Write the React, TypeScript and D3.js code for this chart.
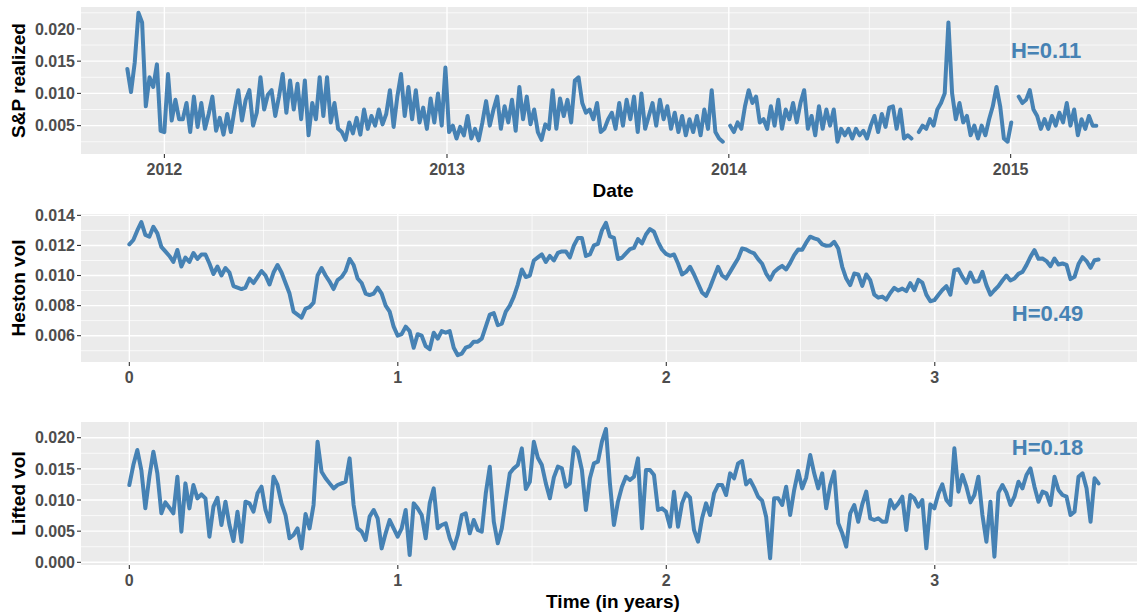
import * as d3 from "d3";

// S&P 500 realized volatility, daily (null = missing day)
const spStart = "2011-11-14";
const spEnd = "2015-04-22";
const spRealized: (number | null)[] = [
  0.0138, 0.0102, 0.0148, 0.0225, 0.021, 0.008, 0.0125, 0.011, 0.0145, 0.0042,
  0.004, 0.013, 0.0058, 0.009, 0.006, 0.006, 0.0085, 0.004, 0.0095, 0.0048,
  0.0085, 0.0045, 0.0068, 0.0095, 0.0042, 0.0062, 0.0036, 0.0068, 0.004, 0.0075,
  0.0105, 0.0058, 0.009, 0.0105, 0.005, 0.007, 0.0125, 0.0075, 0.0098, 0.0105,
  0.0065, 0.0095, 0.013, 0.007, 0.012, 0.0075, 0.0115, 0.006, 0.012, 0.0035,
  0.0085, 0.006, 0.0125, 0.0065, 0.0125, 0.0055, 0.0085, 0.0045, 0.004, 0.0028,
  0.0055, 0.0038, 0.0062, 0.0036, 0.0075, 0.0045, 0.0065, 0.005, 0.0075, 0.0052,
  0.0068, 0.0105, 0.0048, 0.0095, 0.013, 0.0065, 0.011, 0.006, 0.0105, 0.0055,
  0.0078, 0.0045, 0.0092, 0.0055, 0.01, 0.005, 0.014, 0.004, 0.005, 0.003,
  0.0048, 0.0035, 0.0065, 0.003, 0.0045, 0.0027, 0.0055, 0.0088, 0.005, 0.0075,
  0.0095, 0.0045, 0.008, 0.0055, 0.009, 0.0042, 0.011, 0.006, 0.0095, 0.0052,
  0.0075, 0.004, 0.0028, 0.0052, 0.0045, 0.0105, 0.0045, 0.0092, 0.0065, 0.009,
  0.0055, 0.012,
  0.0125, 0.0085, 0.007, 0.0075, 0.006, 0.0085, 0.004, 0.0045, 0.006, 0.007,
  0.0045, 0.0085, 0.005, 0.009, 0.006, 0.0095, 0.004, 0.01, 0.0045, 0.0065,
  0.0085, 0.005, 0.009, 0.006, 0.008, 0.0045, 0.007, 0.004, 0.0065, 0.0035,
  0.006, 0.004, 0.0065, 0.0035, 0.0075, 0.0045, 0.0105, 0.004, 0.003, 0.0025,
  null, 0.005, 0.004, 0.0055, 0.0045, 0.008, 0.0105, 0.0085, 0.0095, 0.0055,
  0.006, 0.0045, 0.008, 0.005, 0.009, 0.0045, 0.0075, 0.006, 0.0085, 0.0055,
  0.0085, 0.0105, 0.0045, 0.0065, 0.0035, 0.008, 0.0045, 0.0075, 0.005, 0.0075,
  0.0025, 0.0045, 0.0035, 0.0045, 0.003, 0.0045, 0.0035, 0.0042, 0.003, 0.005,
  0.0065, 0.004, 0.0068, 0.0048, 0.0078, 0.008, 0.0045, 0.0075, 0.003, 0.0035,
  0.003, null, 0.004, 0.005, 0.0045, 0.006, 0.005, 0.0075, 0.0085, 0.01,
  0.021, 0.01, 0.006, 0.0085, 0.0055, 0.0065, 0.0035, 0.005, 0.003, 0.005,
  0.0035, 0.006, 0.008, 0.011, 0.008, 0.003, 0.0025, 0.0055, null, 0.0095,
  0.0085, 0.009, 0.0105, 0.0075, 0.0065, 0.0045, 0.006, 0.0045, 0.0065, 0.005,
  0.007, 0.0055, 0.0085, 0.005, 0.0075, 0.0035, 0.006, 0.0045, 0.0065, 0.005,
  0.005,
];

// simulated paths, equally spaced over simYears
const simYears = 3.61;
const hestonVol = [
  0.01207, 0.01236, 0.013, 0.01355, 0.0127, 0.01258, 0.01324, 0.0128, 0.0119, 0.0116,
  0.0113, 0.0109, 0.0117, 0.0106, 0.0112, 0.0109, 0.0115, 0.0111, 0.0114, 0.0114,
  0.0108, 0.0101, 0.0106, 0.01, 0.0105, 0.0102, 0.0093, 0.0092, 0.0091, 0.0092,
  0.0098, 0.0095, 0.0099, 0.0103, 0.01, 0.0094, 0.0102, 0.0107, 0.0102, 0.0095,
  0.0088, 0.0076, 0.0074, 0.0072, 0.0078, 0.0079, 0.0082, 0.01, 0.0105, 0.01,
  0.0096, 0.0091, 0.0097, 0.0099, 0.0103, 0.0111, 0.0107, 0.0098, 0.0095, 0.0088,
  0.0087, 0.0088, 0.0092, 0.0088, 0.008, 0.0076, 0.0066, 0.006, 0.0061, 0.0066,
  0.0063, 0.0052, 0.0061, 0.006, 0.0053, 0.0051, 0.0062, 0.0058, 0.0063, 0.0062,
  0.0063, 0.0052, 0.0047, 0.0048, 0.0052, 0.0053, 0.0056, 0.0056, 0.0058, 0.0066,
  0.0074, 0.0075, 0.0067, 0.0068, 0.0076, 0.008, 0.0086, 0.0094, 0.0104, 0.0099,
  0.01, 0.011, 0.0112, 0.0114, 0.0109, 0.0113, 0.011, 0.0115, 0.0116, 0.0116,
  0.0112, 0.012, 0.0125, 0.0125, 0.0113, 0.0114, 0.012, 0.0121, 0.013, 0.0135,
  0.0126, 0.0125, 0.0111,
  0.01118, 0.01147, 0.01176, 0.01184, 0.01242, 0.01213, 0.01273, 0.01309, 0.01291, 0.01224,
  0.01173, 0.01144, 0.01131, 0.0114, 0.0108, 0.01007, 0.01024, 0.01058, 0.01007, 0.00947,
  0.00887, 0.00864, 0.00922, 0.00991, 0.01058, 0.01, 0.0098, 0.01024, 0.01069, 0.01113,
  0.0118, 0.01173, 0.01158, 0.01147, 0.01109, 0.01078, 0.01013, 0.00973, 0.01024, 0.01047,
  0.01064, 0.0104, 0.01084, 0.01136, 0.01173, 0.01171, 0.01218, 0.01258, 0.01247, 0.01238,
  0.01207, 0.01198, 0.012, 0.01224, 0.0118, 0.01058, 0.0098, 0.00936, 0.01013, 0.01007,
  0.00931, 0.01007, 0.00969, 0.00873, 0.00853, 0.0086, 0.0084, 0.00884, 0.00918, 0.009,
  0.00913, 0.00896, 0.00949, 0.00902, 0.00971, 0.00953, 0.00873, 0.00829, 0.00836, 0.00871,
  0.00904, 0.00929, 0.00873, 0.01036, 0.01042, 0.00991, 0.00951, 0.0102, 0.00958, 0.00962,
  0.01024, 0.00936, 0.00873, 0.00902, 0.00929, 0.00967, 0.01, 0.00967, 0.0098, 0.01011,
  0.01024, 0.01069, 0.01124, 0.01169, 0.01111, 0.01113, 0.01096, 0.01062, 0.01113, 0.01073,
  0.0108, 0.01071, 0.00976, 0.00991, 0.01076, 0.01122, 0.01096, 0.01051, 0.01102, 0.01107,
];

const liftedVol = [
  0.01241, 0.01561, 0.01802, 0.01481, 0.00866, 0.01374, 0.01775, 0.01428, 0.00786, 0.00962,
  0.00877, 0.00786, 0.01374, 0.00492, 0.01267, 0.00866, 0.01241, 0.01027, 0.01091, 0.01027,
  0.00412, 0.00893, 0.01037, 0.00599, 0.00973, 0.00599, 0.00342, 0.00813, 0.00331, 0.00973,
  0.00946, 0.00813, 0.01107, 0.01214, 0.0084, 0.00652, 0.01374, 0.01241, 0.00946, 0.00759,
  0.00385, 0.00438, 0.00545, 0.00224, 0.00775, 0.00545, 0.0092, 0.01936, 0.01455, 0.01348,
  0.01267, 0.01187, 0.01241, 0.01267, 0.01294, 0.01668, 0.0092, 0.00545, 0.00492, 0.00358,
  0.00733, 0.0084, 0.00706, 0.00224, 0.00465, 0.00679, 0.00545, 0.00412, 0.00545, 0.0084,
  0.00117, 0.00946, 0.00866, 0.00759, 0.00385, 0.00946, 0.01187, 0.00545,
  0.00599, 0.00626, 0.00385, 0.00224, 0.00438, 0.00759, 0.00786, 0.00465, 0.00679, 0.00519,
  0.00492, 0.01107, 0.01535, 0.00652, 0.00305, 0.00545, 0.01, 0.01428, 0.01508, 0.01561,
  0.01829, 0.01176, 0.01294, 0.01936, 0.01679, 0.01561, 0.01267, 0.01027, 0.01364, 0.01535,
  0.01508, 0.01214, 0.01267, 0.01845, 0.01775, 0.01481, 0.0084, 0.01348, 0.01588, 0.01615,
  0.01936, 0.0214, 0.01267, 0.00599, 0.00973, 0.01214, 0.01374, 0.01321, 0.01374, 0.01668,
  0.00545, 0.01481, 0.01481, 0.01401, 0.0084, 0.00866, 0.00813, 0.00572, 0.01134, 0.00572,
  0.00946, 0.01107, 0.01037, 0.00519, 0.00331, 0.00706, 0.00946, 0.00759, 0.01107, 0.01241,
  0.01241, 0.0108, 0.01428, 0.01348, 0.01588, 0.01626, 0.01251, 0.01321, 0.01198, 0.01053,
  0.00989, 0.00733, 0.00064, 0.01027, 0.01027, 0.0092, 0.01214, 0.00759,
  0.0116, 0.01465, 0.01187, 0.01358, 0.01722, 0.01428, 0.01187, 0.01428, 0.00866, 0.01241,
  0.01455, 0.00626, 0.00465, 0.00251, 0.00786, 0.0092, 0.00652, 0.0093, 0.01134, 0.00706,
  0.00679, 0.00706, 0.00652, 0.00652, 0.01, 0.00866, 0.00946, 0.01053, 0.00519, 0.0108,
  0.01027, 0.00893, 0.01, 0.00224, 0.0093, 0.00866, 0.01102, 0.01251, 0.01, 0.0092,
  0.01829, 0.01134, 0.01401, 0.01214, 0.00962, 0.0108, 0.01374, 0.00759, 0.00331, 0.00973,
  0.00091, 0.01118, 0.01241, 0.01118, 0.0092, 0.01053, 0.01294, 0.01187, 0.01401, 0.01508,
  0.01214, 0.00973, 0.01134, 0.01107, 0.0092, 0.01374, 0.0116, 0.0108, 0.01053, 0.00759,
  0.00813, 0.01374, 0.01428, 0.01187, 0.00652, 0.01348, 0.01267,
];

const dateTicks = ["2012-01-01", "2013-01-01", "2014-01-01", "2015-01-01"];
const dateMinor = ["2012-07-02", "2013-07-02", "2014-07-02"];
const timeTicks = [0, 1, 2, 3];
const timeMinor = [0.5, 1.5, 2.5, 3.5];
const spTicks = [0.005, 0.01, 0.015, 0.02];
const spMinor = [0.0025, 0.0075, 0.0125, 0.0175, 0.0225];
const hestonTicks = [0.006, 0.008, 0.01, 0.012, 0.014];
const hestonMinor = [0.005, 0.007, 0.009, 0.011, 0.013];
const liftedTicks = [0, 0.005, 0.01, 0.015, 0.02];
const liftedMinor = [0.0025, 0.0075, 0.0125, 0.0175];
const hurstLabels = ["H=0.11", "H=0.49", "H=0.18"];

const FONT = "'Liberation Sans', Arial, Helvetica, sans-serif";
const BLUE = "#4682B4";
const LEFT = 81;
const RIGHT = 1145;

const parse = d3.timeParse("%Y-%m-%d");

const Panel = ({
  x,
  y,
  xTicks,
  xMinor,
  xFormat,
  yTicks,
  yMinor,
  yTitle,
  xTitle,
  children,
}: any) => {
  const [bottom, top] = y.range();
  const cy = (top + bottom) / 2;
  return (
    <g>
      <rect x={LEFT} y={top} width={RIGHT - LEFT} height={bottom - top} fill="#EBEBEB" />
      {yMinor.map((v: number, i: number) => (
        <line key={"ym" + i} x1={LEFT} x2={RIGHT} y1={y(v)} y2={y(v)} stroke="#fff" strokeWidth={0.7} />
      ))}
      {xMinor.map((v: any, i: number) => (
        <line key={"xm" + i} x1={x(v)} x2={x(v)} y1={top} y2={bottom} stroke="#fff" strokeWidth={0.7} />
      ))}
      {yTicks.map((v: number, i: number) => (
        <line key={"yg" + i} x1={LEFT} x2={RIGHT} y1={y(v)} y2={y(v)} stroke="#fff" strokeWidth={1.4} />
      ))}
      {xTicks.map((v: any, i: number) => (
        <line key={"xg" + i} x1={x(v)} x2={x(v)} y1={top} y2={bottom} stroke="#fff" strokeWidth={1.4} />
      ))}
      {children}
      {yTicks.map((v: number, i: number) => (
        <g key={"yt" + i}>
          <line x1={LEFT - 4} x2={LEFT} y1={y(v)} y2={y(v)} stroke="#333" strokeWidth={1.1} />
          <text x={LEFT - 6} y={y(v)} dy="0.36em" textAnchor="end" fontSize={16} fontWeight="bold" fill="#4D4D4D">
            {d3.format(".3f")(v)}
          </text>
        </g>
      ))}
      {xTicks.map((v: any, i: number) => (
        <g key={"xt" + i}>
          <line x1={x(v)} x2={x(v)} y1={bottom} y2={bottom + 4} stroke="#333" strokeWidth={1.1} />
          <text x={x(v)} y={bottom + 21} textAnchor="middle" fontSize={16} fontWeight="bold" fill="#4D4D4D">
            {xFormat(v)}
          </text>
        </g>
      ))}
      <text
        transform={`translate(25 ${cy}) rotate(-90)`}
        textAnchor="middle"
        fontSize={19}
        fontWeight="bold"
        fill="#000"
      >
        {yTitle}
      </text>
      {xTitle && (
        <text x={(LEFT + RIGHT) / 2} y={bottom + 43} textAnchor="middle" fontSize={19} fontWeight="bold" fill="#000">
          {xTitle}
        </text>
      )}
    </g>
  );
};

const App = () => {
  const start = parse(spStart)!;
  const end = parse(spEnd)!;
  const spStep = (end.getTime() - start.getTime()) / (spRealized.length - 1);
  const spData = spRealized.map((v, i) => ({ date: new Date(start.getTime() + i * spStep), v }));

  const simStep = simYears / (hestonVol.length - 1);
  const hestonData = hestonVol.map((v, i) => ({ t: i * simStep, v }));
  const liftedData = liftedVol.map((v, i) => ({ t: i * simStep, v }));

  const xDate = d3.scaleTime().domain([parse("2011-09-15")!, parse("2015-06-24")!]).range([LEFT, RIGHT]);
  const xTime = d3.scaleLinear().domain([-0.18, 3.783]).range([LEFT, RIGHT]);

  const ySp = d3.scaleLinear().domain([0.0006, 0.0234]).range([154, 7]);
  const yHeston = d3.scaleLinear().domain([0.00425, 0.01409]).range([362, 214]);
  const yLifted = d3.scaleLinear().domain([-0.00043, 0.02252]).range([565, 422]);

  const spLine = d3
    .line<any>()
    .defined((d) => d.v !== null)
    .x((d) => xDate(d.date))
    .y((d) => ySp(d.v));
  const hestonLine = d3
    .line<any>()
    .x((d) => xTime(d.t))
    .y((d) => yHeston(d.v));
  const liftedLine = d3
    .line<any>()
    .x((d) => xTime(d.t))
    .y((d) => yLifted(d.v));

  const lineProps = {
    fill: "none",
    stroke: BLUE,
    strokeWidth: 4,
    strokeLinejoin: "round" as const,
    strokeLinecap: "round" as const,
  };
  const labelProps = {
    textAnchor: "middle" as const,
    dy: "0.36em",
    fontSize: 22,
    fontWeight: "bold",
    fill: BLUE,
  };

  return (
    <svg
      width={1137}
      height={614}
      style={{ position: "absolute", left: 0, top: 0, background: "#fff" }}
      fontFamily={FONT}
    >
      <Panel
        x={xDate}
        y={ySp}
        xTicks={dateTicks.map((d) => parse(d))}
        xMinor={dateMinor.map((d) => parse(d))}
        xFormat={d3.timeFormat("%Y")}
        yTicks={spTicks}
        yMinor={spMinor}
        yTitle="S&P realized"
        xTitle="Date"
      >
        <path d={spLine(spData) || ""} {...lineProps} />
        <text x={xDate(parse("2015-02-16")!)} y={ySp(0.0167)} {...labelProps}>
          {hurstLabels[0]}
        </text>
      </Panel>
      <Panel
        x={xTime}
        y={yHeston}
        xTicks={timeTicks}
        xMinor={timeMinor}
        xFormat={(v: number) => String(v)}
        yTicks={hestonTicks}
        yMinor={hestonMinor}
        yTitle="Heston vol"
      >
        <path d={hestonLine(hestonData) || ""} {...lineProps} />
        <text x={xTime(3.42)} y={yHeston(0.0075)} {...labelProps}>
          {hurstLabels[1]}
        </text>
      </Panel>
      <Panel
        x={xTime}
        y={yLifted}
        xTicks={timeTicks}
        xMinor={timeMinor}
        xFormat={(v: number) => String(v)}
        yTicks={liftedTicks}
        yMinor={liftedMinor}
        yTitle="Lifted vol"
        xTitle="Time (in years)"
      >
        <path d={liftedLine(liftedData) || ""} {...lineProps} />
        <text x={xTime(3.42)} y={yLifted(0.0185)} {...labelProps}>
          {hurstLabels[2]}
        </text>
      </Panel>
    </svg>
  );
};

export default App;
